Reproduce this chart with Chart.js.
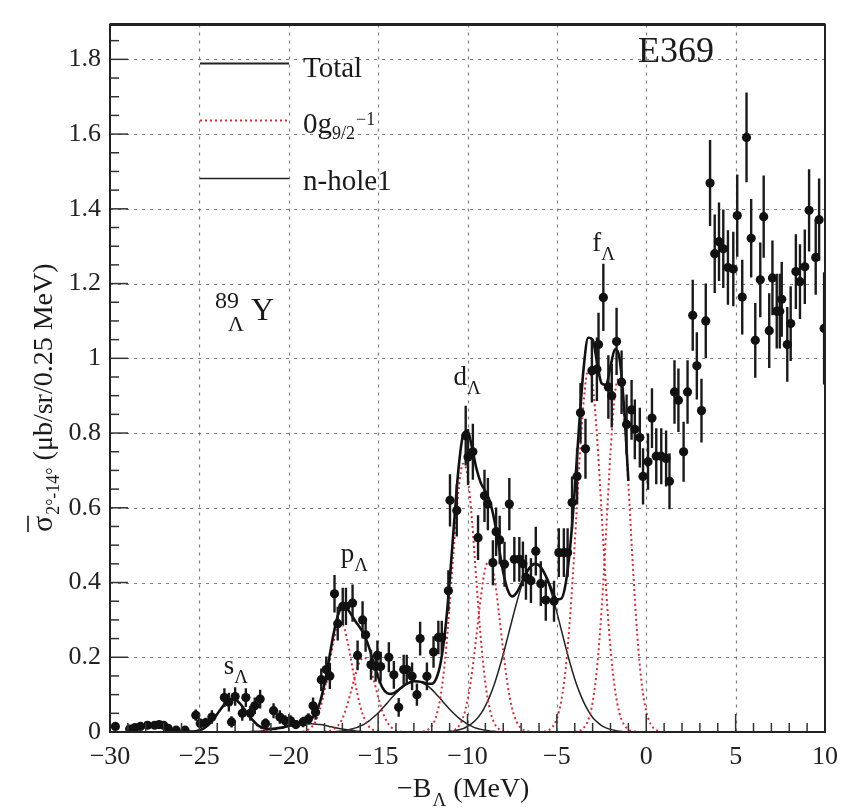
<!DOCTYPE html>
<html><head><meta charset="utf-8">
<script src="https://cdn.jsdelivr.net/npm/chart.js@4.4.0/dist/chart.umd.min.js"></script>
<style>html,body{margin:0;padding:0;background:#fff;}</style>
</head><body>
<canvas id="c" width="848" height="807"></canvas>
<script>
// ---------- data ----------
const xTicks = [-30,-25,-20,-15,-10,-5,0,5,10];
const xTickLabels = ['\u221230','\u221225','\u221220','\u221215','\u221210','\u22125','0','5','10'];
const yTicks = [0,0.2,0.4,0.6,0.8,1.0,1.2,1.4,1.6,1.8];
const yTickLabels = ['0','0.2','0.4','0.6','0.8','1','1.2','1.4','1.6','1.8'];

const dataX = [-29.7,-28.9,-28.6,-28.3,-27.9,-27.5,-27.25,-27.0,-26.75,-26.3,-25.8,
 -25.2,-24.95,-24.65,-24.3,-23.6,-23.35,-23.2,-23.0,-22.6,-22.4,-22.15,-21.9,-21.6,-21.3,-20.85,-20.5,-20.2,-19.9,-19.6,-19.2,-18.9,
 -18.64,-18.5,-18.18,-17.9,-17.7,-17.44,-17.26,-16.98,-16.8,-16.43,-16.15,-15.87,-15.7,-15.4,-15.14,-15.04,-14.86,-14.4,-14.12,-13.85,
 -13.57,-13.4,-13.1,-12.83,-12.65,-12.27,-11.9,-11.63,-11.44,-11.07,-10.98,-10.6,-10.1,-9.97,-9.7,-9.41,-9.05,-8.86,-8.58,-8.4,-8.2,
 -7.93,-7.66,-7.38,-7.1,-6.9,-6.73,-6.45,-6.18,-5.9,-5.62,-5.16,-4.89,-4.61,-4.4,-4.15,-3.87,-3.68,-3.4,-3.04,-2.76,-2.67,-2.4,
 -2.12,-1.93,-1.66,-1.38,-1.1,-0.82,-0.64,-0.36,-0.18,0.1,0.32,0.56,0.84,1.11,1.3,1.58,1.8,2.09,2.31,2.6,2.83,3.09,3.33,
 3.57,3.83,4.07,4.31,4.57,4.87,5.09,5.37,5.61,5.87,6.1,6.38,6.57,6.88,7.06,7.3,7.47,7.58,7.89,8.08,8.37,8.6,8.87,9.11,9.48,9.67,9.95];
const dataY = [0.015,0.008,0.012,0.015,0.018,0.018,0.02,0.018,0.01,0.005,0.005,
 0.045,0.023,0.025,0.04,0.092,0.08,0.027,0.095,0.05,0.092,0.05,0.07,0.088,0.023,0.057,0.04,0.03,0.03,0.02,0.027,0.035,
 0.07,0.053,0.14,0.167,0.15,0.37,0.29,0.336,0.336,0.345,0.205,0.3,0.26,0.18,0.175,0.205,0.175,0.2,0.153,0.066,
 0.167,0.167,0.149,0.1,0.25,0.149,0.214,0.253,0.253,0.378,0.62,0.593,0.793,0.736,0.75,0.52,0.632,0.61,0.453,0.536,0.514,
 0.449,0.61,0.462,0.462,0.45,0.414,0.405,0.484,0.397,0.353,0.35,0.48,0.48,0.48,0.614,0.684,0.854,0.758,0.967,0.971,1.037,1.163,
 0.923,0.90,1.045,0.936,0.823,0.862,0.81,0.788,0.684,0.723,0.84,0.738,0.738,0.732,0.671,0.91,0.888,0.75,0.91,1.115,0.98,0.86,1.10,
 1.469,1.28,1.312,1.293,1.243,1.239,1.382,1.164,1.591,1.321,1.048,1.21,1.379,1.074,1.215,1.126,1.126,1.158,1.037,1.093,1.232,1.205,1.245,1.396,1.27,1.371,1.08];
const dataErr = [0.008,0.006,0.007,0.008,0.008,0.008,0.008,0.008,0.006,0.005,0.005,
 0.015,0.013,0.013,0.018,0.025,0.025,0.015,0.025,0.02,0.025,0.02,0.022,0.025,0.013,0.02,0.018,0.015,0.015,0.012,0.014,0.015,
 0.022,0.02,0.03,0.035,0.035,0.05,0.045,0.05,0.05,0.05,0.04,0.05,0.045,0.04,0.04,0.04,0.04,0.04,0.037,0.025,
 0.04,0.04,0.037,0.03,0.045,0.037,0.042,0.045,0.045,0.055,0.07,0.07,0.08,0.075,0.075,0.06,0.07,0.07,0.06,0.065,0.065,
 0.06,0.07,0.06,0.06,0.06,0.06,0.06,0.065,0.06,0.055,0.055,0.065,0.065,0.065,0.07,0.075,0.08,0.08,0.085,0.085,0.085,0.09,
 0.085,0.085,0.09,0.085,0.08,0.08,0.08,0.08,0.075,0.075,0.08,0.075,0.075,0.075,0.075,0.085,0.085,0.08,0.085,0.095,0.09,0.085,0.1,
 0.115,0.105,0.105,0.105,0.1,0.1,0.11,0.1,0.12,0.105,0.1,0.1,0.11,0.1,0.1,0.1,0.1,0.1,0.1,0.1,0.1,0.1,0.1,0.11,0.1,0.11,0.15];

// Total fit curve (sampled from the figure)
const totalCurve = [[-26,0.000],[-25.75,0.000],[-25.5,0.001],[-25.25,0.002],[-25,0.005],[-24.75,0.010],[-24.5,0.019],[-24.25,0.032],[-24,0.048],[-23.75,0.065],[-23.5,0.079],[-23.25,0.087],[-23,0.087],[-22.75,0.077],[-22.5,0.062],[-22.25,0.045],[-22,0.031],[-21.75,0.019],[-21.5,0.012],[-21.25,0.009],[-21,0.008],[-20.75,0.009],[-20.5,0.011],[-20.25,0.013],[-20,0.016],[-19.75,0.018],[-19.5,0.020],[-19.25,0.023],[-19,0.026],[-18.75,0.034],[-18.5,0.050],[-18.25,0.080],[-18,0.130],[-17.75,0.194],[-17.5,0.261],[-17.25,0.312],[-17,0.334],[-16.75,0.331],[-16.5,0.314],[-16.25,0.295],[-16,0.278],[-15.75,0.257],[-15.5,0.225],[-15.25,0.185],[-15,0.147],[-14.75,0.118],[-14.5,0.104],[-14.25,0.102],[-14,0.108],[-13.75,0.117],[-13.5,0.126],[-13.25,0.132],[-13,0.136],[-12.75,0.135],[-12.5,0.133],[-12.25,0.129],[-12,0.129],[-11.75,0.143],[-11.5,0.186],[-11.25,0.271],[-11,0.402],[-10.75,0.560],[-10.5,0.706],[-10.25,0.794],[-10,0.806],[-9.75,0.762],[-9.5,0.705],[-9.25,0.666],[-9,0.644],[-8.75,0.617],[-8.5,0.567],[-8.25,0.496],[-8,0.427],[-7.75,0.380],[-7.5,0.363],[-7.25,0.373],[-7,0.396],[-6.75,0.422],[-6.5,0.441],[-6.25,0.450],[-6,0.446],[-5.75,0.430],[-5.5,0.405],[-5.25,0.376],[-5,0.355],[-4.75,0.357],[-4.5,0.399],[-4.25,0.498],[-4,0.648],[-3.75,0.823],[-3.5,0.975],[-3.25,1.055],[-3,1.050],[-2.75,0.988],[-2.5,0.933],[-2.25,0.929],[-2,0.978],[-1.75,1.024],[-1.5,1.001],[-1.25,0.875],[-1,0.672]];

// 0g9/2^-1 components (red dotted)
const g0s  = [[-26,0.000],[-25.75,0.000],[-25.5,0.001],[-25.25,0.002],[-25,0.005],[-24.75,0.010],[-24.5,0.019],[-24.25,0.032],[-24,0.048],[-23.75,0.065],[-23.5,0.079],[-23.25,0.087],[-23,0.086],[-22.75,0.077],[-22.5,0.062],[-22.25,0.044],[-22,0.029],[-21.75,0.017],[-21.5,0.009],[-21.25,0.004],[-21,0.002],[-20.75,0.001],[-20.5,0.000]];
const g0p1 = [[-19.5,0.000],[-19.25,0.001],[-19,0.004],[-18.75,0.012],[-18.5,0.028],[-18.25,0.061],[-18,0.111],[-17.75,0.176],[-17.5,0.240],[-17.25,0.283],[-17,0.287],[-16.75,0.251],[-16.5,0.189],[-16.25,0.123],[-16,0.069],[-15.75,0.034],[-15.5,0.014],[-15.25,0.005],[-15,0.002],[-14.75,0.000]];
const g0p2 = [[-18,0.001],[-17.75,0.002],[-17.5,0.007],[-17.25,0.017],[-17,0.036],[-16.75,0.069],[-16.5,0.112],[-16.25,0.157],[-16,0.191],[-15.75,0.199],[-15.5,0.180],[-15.25,0.140],[-15,0.094],[-14.75,0.054],[-14.5,0.027],[-14.25,0.012],[-14,0.004],[-13.75,0.001],[-13.5,0.000]];
const g0d1 = [[-12.5,0.001],[-12.25,0.005],[-12,0.016],[-11.75,0.042],[-11.5,0.097],[-11.25,0.195],[-11,0.338],[-10.75,0.503],[-10.5,0.647],[-10.25,0.718],[-10,0.687],[-9.75,0.567],[-9.5,0.403],[-9.25,0.248],[-9,0.131],[-8.75,0.060],[-8.5,0.024],[-8.25,0.008],[-8,0.002],[-7.75,0.001]];
const g0d2 = [[-11,0.002],[-10.75,0.005],[-10.5,0.015],[-10.25,0.038],[-10,0.084],[-9.75,0.158],[-9.5,0.258],[-9.25,0.362],[-9,0.439],[-8.75,0.459],[-8.5,0.414],[-8.25,0.322],[-8,0.216],[-7.75,0.125],[-7.5,0.062],[-7.25,0.027],[-7,0.010],[-6.75,0.003],[-6.5,0.001]];
const g0f1 = [[-6,0.000],[-5.75,0.001],[-5.5,0.004],[-5.25,0.013],[-5,0.036],[-4.75,0.084],[-4.5,0.173],[-4.25,0.315],[-4,0.504],[-3.75,0.712],[-3.5,0.885],[-3.25,0.968],[-3,0.931],[-2.75,0.789],[-2.5,0.589],[-2.25,0.386],[-2,0.223],[-1.75,0.114],[-1.5,0.051],[-1.25,0.020],[-1,0.007],[-0.75,0.002],[-0.5,0.001]];
const g0f2 = [[-4,0.001],[-3.75,0.003],[-3.5,0.011],[-3.25,0.031],[-3,0.079],[-2.75,0.173],[-2.5,0.327],[-2.25,0.532],[-2,0.748],[-1.75,0.906],[-1.5,0.947],[-1.25,0.854],[-1,0.664],[-0.75,0.446],[-0.5,0.258],[-0.25,0.128],[0,0.055],[0.25,0.021],[0.5,0.007],[0.75,0.002]];

// n-hole1 components (thin black)
const nh1 = [[-23,0.000],[-22.75,0.000],[-22.5,0.001],[-22.25,0.001],[-22,0.002],[-21.75,0.002],[-21.5,0.003],[-21.25,0.005],[-21,0.007],[-20.75,0.009],[-20.5,0.011],[-20.25,0.013],[-20,0.016],[-19.75,0.018],[-19.5,0.020],[-19.25,0.021],[-19,0.022],[-18.75,0.022],[-18.5,0.021],[-18.25,0.020],[-18,0.018],[-17.75,0.015],[-17.5,0.013],[-17.25,0.010],[-17,0.008],[-16.75,0.006],[-16.5,0.005],[-16.25,0.003],[-16,0.002],[-15.75,0.001],[-15.5,0.001],[-15,0.000]];
const nh2 = [[-18,0.000],[-17.75,0.001],[-17.5,0.001],[-17.25,0.002],[-17,0.003],[-16.75,0.005],[-16.5,0.008],[-16.25,0.011],[-16,0.016],[-15.75,0.022],[-15.5,0.030],[-15.25,0.040],[-15,0.051],[-14.75,0.064],[-14.5,0.077],[-14.25,0.091],[-14,0.104],[-13.75,0.116],[-13.5,0.126],[-13.25,0.132],[-13,0.136],[-12.75,0.135],[-12.5,0.131],[-12.25,0.124],[-12,0.114],[-11.75,0.101],[-11.5,0.088],[-11.25,0.074],[-11,0.061],[-10.75,0.049],[-10.5,0.038],[-10.25,0.029],[-10,0.021],[-9.75,0.015],[-9.5,0.010],[-9.25,0.007],[-9,0.005],[-8.75,0.003],[-8.5,0.002],[-8.25,0.001],[-8,0.001],[-7.75,0.000]];
const nh3 = [[-11.5,0.001],[-11.25,0.001],[-11,0.002],[-10.75,0.003],[-10.5,0.006],[-10.25,0.009],[-10,0.015],[-9.75,0.023],[-9.5,0.034],[-9.25,0.049],[-9,0.070],[-8.75,0.096],[-8.5,0.128],[-8.25,0.166],[-8,0.208],[-7.75,0.254],[-7.5,0.301],[-7.25,0.346],[-7,0.387],[-6.75,0.419],[-6.5,0.441],[-6.25,0.450],[-6,0.446],[-5.75,0.429],[-5.5,0.401],[-5.25,0.363],[-5,0.320],[-4.75,0.273],[-4.5,0.226],[-4.25,0.182],[-4,0.142],[-3.75,0.108],[-3.5,0.080],[-3.25,0.057],[-3,0.039],[-2.75,0.027],[-2.5,0.017],[-2.25,0.011],[-2,0.007],[-1.75,0.004],[-1.5,0.002],[-1.25,0.001],[-1,0.001],[-0.75,0.000]];

// ---------- chart ----------
const F = '"Liberation Serif","Times New Roman",serif';
const RED = '#c8323c';
const toXY = arr => arr.map(p => ({x:p[0], y:p[1]}));
const points = dataX.map((x,i)=>({x:x, y:dataY[i]}));

function curveDS(arr, color, width, dash, order){
  return {data: toXY(arr), showLine:true, borderColor:color, borderWidth:width, borderDash:dash,
          pointRadius:0, pointHoverRadius:0, fill:false, cubicInterpolationMode:'monotone', order:order};
}

const deco = {
  id:'deco',
  beforeDatasetsDraw(chart){
    const {ctx, chartArea:a, scales:{x,y}} = chart;
    ctx.save();
    ctx.strokeStyle='rgba(95,95,95,0.8)'; ctx.lineWidth=1.2; ctx.setLineDash([3,5]);
    xTicks.forEach(v=>{ if(v<=-30||v>=10) return; const px=Math.round(x.getPixelForValue(v))+0.5;
      ctx.beginPath(); ctx.moveTo(px,a.top); ctx.lineTo(px,a.bottom); ctx.stroke(); });
    yTicks.forEach(v=>{ if(v<=0) return; const py=Math.round(y.getPixelForValue(v))+0.5;
      ctx.beginPath(); ctx.moveTo(a.left,py); ctx.lineTo(a.right,py); ctx.stroke(); });
    ctx.restore();
  },
  beforeDatasetDraw(chart, args){
    if(args.index!==0) return;
    const {ctx, chartArea:a, scales:{x,y}} = chart;
    ctx.save();
    ctx.beginPath(); ctx.rect(a.left,a.top,a.right-a.left,a.bottom-a.top); ctx.clip();
    ctx.strokeStyle='#1a1a1a'; ctx.lineWidth=2.4;
    dataX.forEach((xv,i)=>{
      const px=x.getPixelForValue(xv);
      ctx.beginPath(); ctx.moveTo(px,y.getPixelForValue(dataY[i]-dataErr[i])); ctx.lineTo(px,y.getPixelForValue(dataY[i]+dataErr[i])); ctx.stroke();
    });
    ctx.restore();
  },
  afterDraw(chart){
    const {ctx, chartArea:a, scales:{x,y}} = chart;
    ctx.save();
    // minor + major ticks (inside)
    ctx.strokeStyle='#333'; ctx.lineWidth=1.5;
    for(let k=-30;k<=10;k++){ const px=x.getPixelForValue(k); const L=(k%5===0)?18:9;
      ctx.beginPath(); ctx.moveTo(px,a.bottom); ctx.lineTo(px,a.bottom-L); ctx.stroke(); }
    for(let k=0;k<=37;k++){ const v=k*0.05; const py=y.getPixelForValue(v); const L=(k%4===0)?18:9;
      ctx.beginPath(); ctx.moveTo(a.left,py); ctx.lineTo(a.left+L,py); ctx.stroke(); }
    // frame
    ctx.strokeStyle='#222'; ctx.lineWidth=2;
    ctx.strokeRect(a.left,a.top,a.right-a.left,a.bottom-a.top);
    ctx.lineWidth=3; ctx.beginPath(); ctx.moveTo(a.left,a.top); ctx.lineTo(a.right,a.top); ctx.stroke();

    ctx.fillStyle='#1a1a1a'; ctx.textBaseline='alphabetic'; ctx.textAlign='left';
    // legend
    const lx0=a.left+90, lx1=a.left+179;
    ctx.lineWidth=2; ctx.strokeStyle='#222'; ctx.setLineDash([]);
    ctx.beginPath(); ctx.moveTo(lx0,63.5); ctx.lineTo(lx1,63.5); ctx.stroke();
    ctx.strokeStyle=RED; ctx.setLineDash([2,3]); ctx.lineWidth=2.2;
    ctx.beginPath(); ctx.moveTo(lx0,120.5); ctx.lineTo(lx1,120.5); ctx.stroke();
    ctx.setLineDash([]); ctx.strokeStyle='#222'; ctx.lineWidth=1.6;
    ctx.beginPath(); ctx.moveTo(lx0,178.5); ctx.lineTo(lx1,178.5); ctx.stroke();
    ctx.font='29px '+F;
    ctx.fillText('Total',303,77);
    let tx=303; ctx.fillText('0g',tx,133); tx+=ctx.measureText('0g').width;
    ctx.font='18px '+F; ctx.fillText('9/2',tx,139); const w92=ctx.measureText('9/2').width;
    ctx.fillText('\u22121',tx+w92+1,125);
    ctx.font='29px '+F; ctx.fillText('n-hole1',303,190);

    // E369
    ctx.font='36px '+F; ctx.fillText('E369',638,62);
    // hypernucleus
    ctx.font='24px '+F; ctx.fillText('89',215,308);
    ctx.font='22px '+F; ctx.fillText('\u039B',228,331);
    ctx.font='32px '+F; ctx.fillText('Y',251,320);
    // orbit labels
    function orb(letter, xv, yv){
      const px=x.getPixelForValue(xv), py=y.getPixelForValue(yv);
      ctx.font='27px '+F; ctx.fillText(letter,px,py); const w=ctx.measureText(letter).width;
      ctx.font='19px '+F; ctx.fillText('\u039B',px+w,py+9);
    }
    orb('s',-23.63,0.156); orb('p',-17.09,0.456); orb('d',-10.78,0.929); orb('f',-3.02,1.288);

    // x-axis title
    ctx.font='28px '+F; let xt=397; ctx.fillText('\u2212B',xt,797); xt+=ctx.measureText('\u2212B').width;
    ctx.font='19px '+F; ctx.fillText('\u039B',xt+1,806); xt+=ctx.measureText('\u039B').width+1;
    ctx.font='28px '+F; ctx.fillText(' (MeV)',xt,797);

    // y-axis title (rotated)
    ctx.save(); ctx.translate(52,532); ctx.rotate(-Math.PI/2);
    let yt=0; ctx.font='30px '+F; ctx.fillText('\u03C3',yt,0); const ws=ctx.measureText('\u03C3').width;
    ctx.lineWidth=1.6; ctx.strokeStyle='#1a1a1a'; ctx.beginPath(); ctx.moveTo(yt,-24); ctx.lineTo(yt+ws,-24); ctx.stroke();
    yt+=ws+1; ctx.font='18px '+F; ctx.fillText('2\u00B0-14\u00B0',yt,7); yt+=ctx.measureText('2\u00B0-14\u00B0').width;
    ctx.font='28px '+F; ctx.fillText(' (\u03BCb/sr/0.25 MeV)',yt,0);
    ctx.restore();
    ctx.restore();
  }
};

new Chart(document.getElementById('c'), {
  type:'scatter',
  data:{datasets:[
    {data:points, showLine:false, pointRadius:4.6, pointHoverRadius:4.6, pointBackgroundColor:'#111', pointBorderWidth:0, order:0},
    curveDS(totalCurve,'#111',2.6,[],1),
    curveDS(g0s,RED,2,[2,3],2), curveDS(g0p1,RED,2,[2,3],2), curveDS(g0p2,RED,2,[2,3],2),
    curveDS(g0d1,RED,2,[2,3],2), curveDS(g0d2,RED,2,[2,3],2), curveDS(g0f1,RED,2,[2,3],2), curveDS(g0f2,RED,2,[2,3],2),
    curveDS(nh1,'#222',1.5,[],2), curveDS(nh2,'#222',1.5,[],2), curveDS(nh3,'#222',1.5,[],2)
  ]},
  options:{
    responsive:false, animation:false, devicePixelRatio:1,
    layout:{padding:{left:0,right:16,top:8,bottom:0}},
    plugins:{legend:{display:false}, tooltip:{enabled:false}},
    events:[],
    scales:{
      x:{type:'linear', min:-30, max:10,
         afterFit(s){ s.height=75; },
         afterBuildTicks(s){ s.ticks = xTicks.map(v=>({value:v})); },
         grid:{display:false, drawTicks:false}, border:{display:false},
         ticks:{autoSkip:false, maxRotation:0, padding:10, color:'#222', font:{family:F, size:26},
                callback:(v,i)=>xTickLabels[i]}},
      y:{type:'linear', min:0, max:1.893,
         afterFit(s){ s.width=110; },
         afterBuildTicks(s){ s.ticks = yTicks.map(v=>({value:v})); },
         grid:{display:false, drawTicks:false}, border:{display:false},
         ticks:{autoSkip:false, padding:9, color:'#222', font:{family:F, size:26},
                callback:(v,i)=>yTickLabels[i]}}
    }
  },
  plugins:[deco]
});
</script>
</body></html>
